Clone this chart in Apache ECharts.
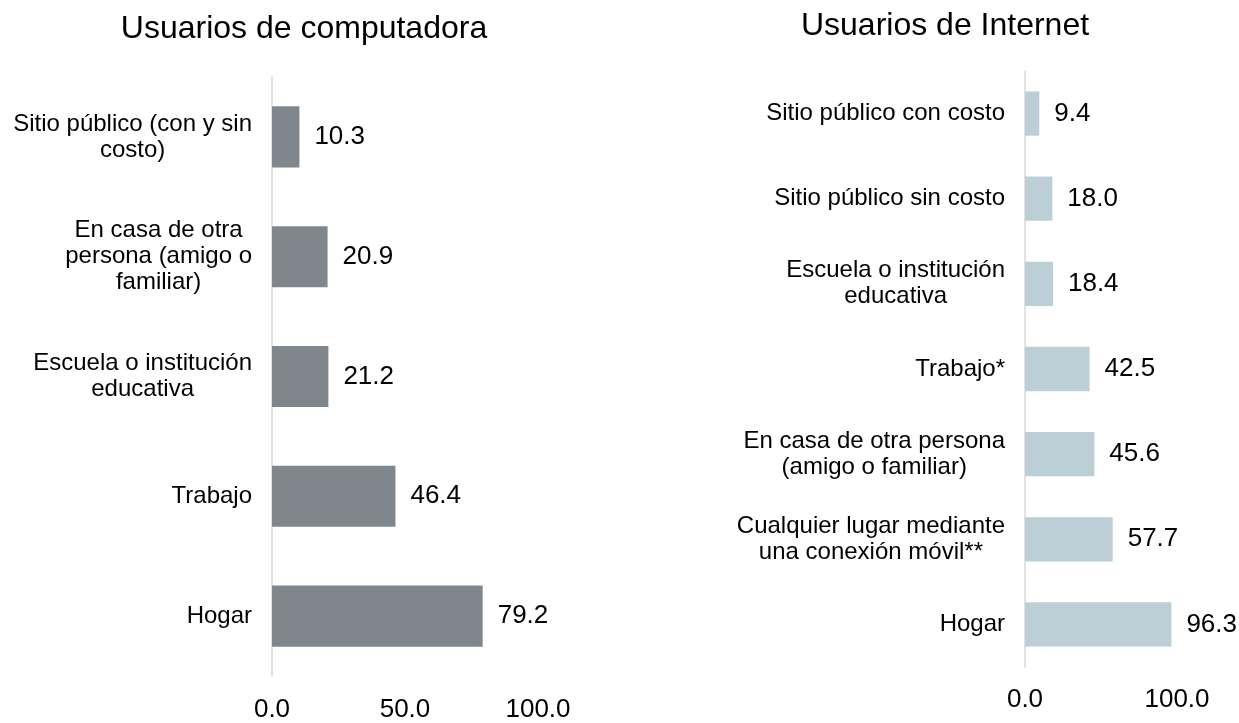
<!DOCTYPE html>
<html>
<head>
    <meta charset="utf-8">
    <script type="text/javascript" src="https://cdn.jsdelivr.net/npm/echarts@6/dist/echarts.min.js"></script>
    <style>
        html, body { margin: 0; padding: 0; background: #fff; }
    </style>
</head>
<body>
    <div id="main" style="width: 1239px;height:723px;"></div>
    <script type="text/javascript">
    // computadora (arriba -> abajo)
    let compCategories = [
        'Sitio público (con y sin\ncosto)',
        'En casa de otra\npersona (amigo o\nfamiliar)',
        'Escuela o institución\neducativa',
        'Trabajo',
        'Hogar'
    ]
    let compValues = [10.3, 20.9, 21.2, 46.4, 79.2]
    let compTicks = [0, 50, 100]

    // internet (arriba -> abajo)
    let netCategories = [
        'Sitio público con costo',
        'Sitio público sin costo',
        'Escuela o institución\neducativa',
        'Trabajo*',
        'En casa de otra persona\n(amigo o familiar)',
        'Cualquier lugar mediante\nuna conexión móvil**',
        'Hogar'
    ]
    let netValues = [9.4, 18.0, 18.4, 42.5, 45.6, 57.7, 96.3]
    let netTicks = [0, 100]

    let titles = ['Usuarios de computadora', 'Usuarios de Internet']

    let FONT = '"Liberation Sans", Arial, sans-serif'
    let TXT = '#000'

    // cada linea centrada dentro del bloque, bloque alineado a la derecha
    function centerLines(v) {
        return v.split('\n').map(s => '{c|' + s + '}').join('\n')
    }

    function yAxisFor(gridIndex, cats, margin) {
        return {
            type: 'category',
            gridIndex: gridIndex,
            data: cats,
            inverse: true,
            axisTick: { show: false },
            axisLine: { show: true, lineStyle: { color: '#d9d9d9', width: 1.5 } },
            splitLine: { show: false },
            axisLabel: {
                margin: margin,
                align: 'right',
                formatter: centerLines,
                rich: {
                    c: { align: 'center', fontSize: 24, lineHeight: 26, color: TXT, fontFamily: FONT }
                }
            }
        }
    }

    function xAxisFor(gridIndex, ticks, margin) {
        return {
            type: 'value',
            gridIndex: gridIndex,
            min: ticks[0],
            max: ticks[ticks.length - 1],
            interval: ticks[1] - ticks[0],
            axisLine: { show: false },
            axisTick: { show: false },
            splitLine: { show: false },
            axisLabel: {
                margin: margin,
                fontSize: 26,
                color: TXT,
                fontFamily: FONT,
                formatter: v => v.toFixed(1)
            }
        }
    }

    function barSeries(idx, values, color, width) {
        return {
            type: 'bar',
            xAxisIndex: idx,
            yAxisIndex: idx,
            data: values,
            barWidth: width,
            itemStyle: { color: color },
            label: {
                show: true,
                position: 'right',
                distance: 15,
                fontSize: 26,
                color: TXT,
                fontFamily: FONT,
                formatter: p => p.value.toFixed(1)
            },
            silent: true
        }
    }

    var myChart = echarts.init(document.getElementById('main'))
    let option = {
        backgroundColor: '#fff',
        animation: false,
        textStyle: { fontFamily: FONT },
        title: [{
            text: titles[0],
            left: 299,
            top: 8,
            textAlign: 'center',
            textStyle: { fontSize: 32, fontWeight: 'normal', color: TXT, fontFamily: FONT }
        }, {
            text: titles[1],
            left: 940,
            top: 5,
            textAlign: 'center',
            textStyle: { fontSize: 32, fontWeight: 'normal', color: TXT, fontFamily: FONT }
        }],
        grid: [
            { left: 272, width: 266, top: 77, height: 601 },
            { left: 1025, width: 152, top: 71, height: 596 }
        ],
        xAxis: [xAxisFor(0, compTicks, 21), xAxisFor(1, netTicks, 20)],
        yAxis: [yAxisFor(0, compCategories, 20), yAxisFor(1, netCategories, 20)],
        series: [
            barSeries(0, compValues, '#7f878c', '51%'),
            barSeries(1, netValues, '#bccfd6', '52%')
        ]
    }
    myChart.setOption(option)
    </script>
</body>
</html>
